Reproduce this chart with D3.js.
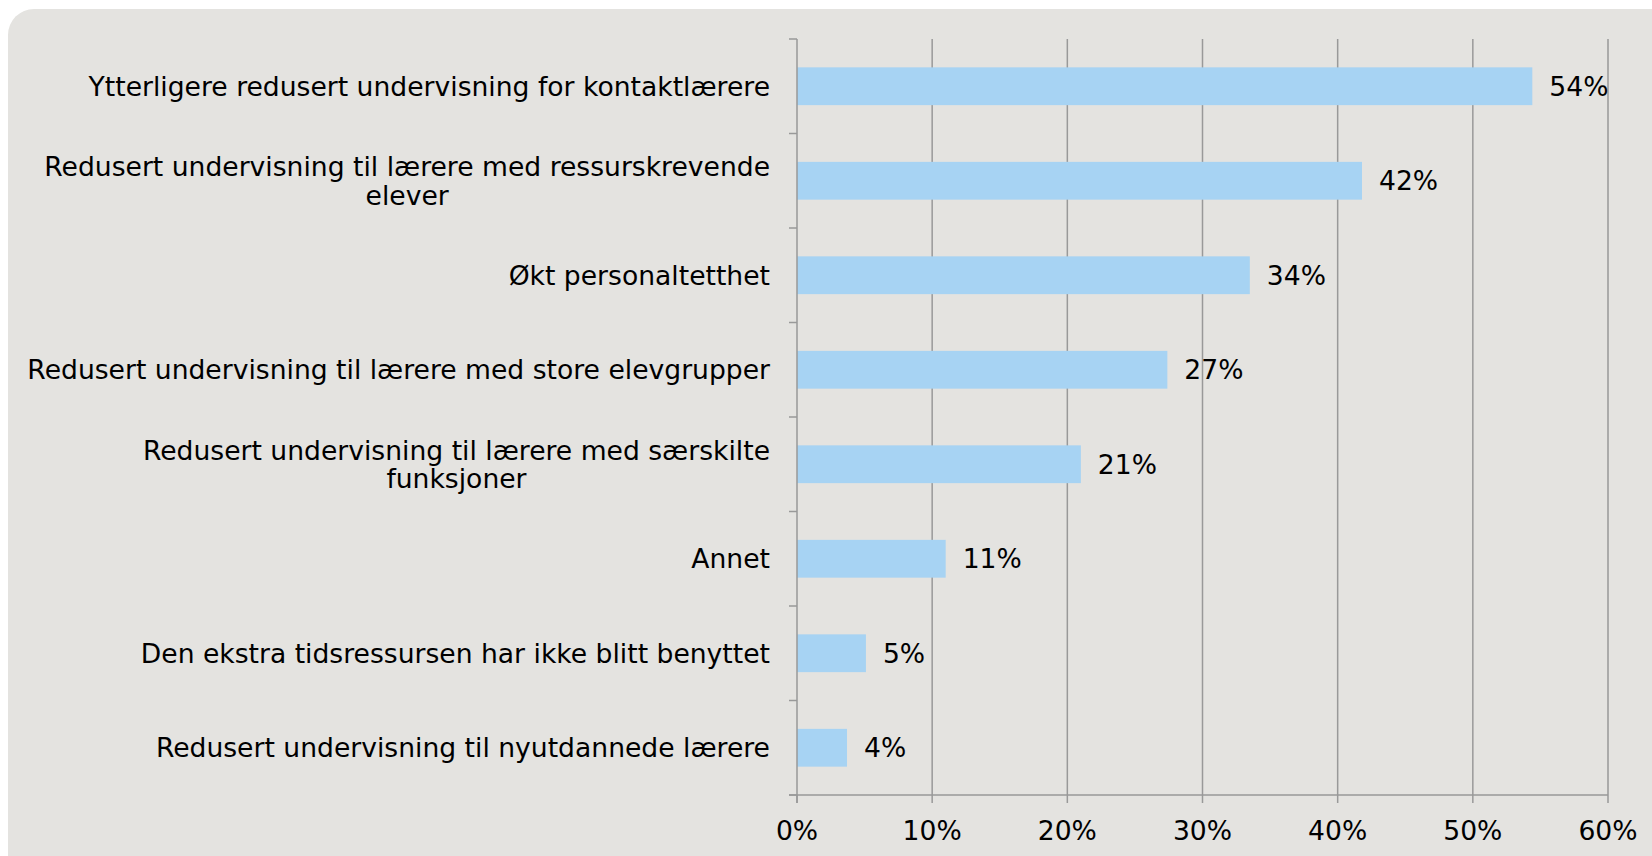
<!DOCTYPE html>
<html>
<head>
<meta charset="utf-8">
<script src="https://cdn.jsdelivr.net/npm/d3@7"></script>
<style>
  body { margin: 0; background: #ffffff; }
  svg text { font-family: "DejaVu Sans", Verdana, sans-serif; fill: #000; }
</style>
</head>
<body>
<div id="chart"></div>
<script>
var categories = [
    "Ytterligere redusert undervisning for kontaktlærere",
    "Redusert undervisning til lærere med ressurskrevende|elever",
    "Økt personaltetthet",
    "Redusert undervisning til lærere med store elevgrupper",
    "Redusert undervisning til lærere med særskilte|funksjoner",
    "Annet",
    "Den ekstra tidsressursen har ikke blitt benyttet",
    "Redusert undervisning til nyutdannede lærere"
];
var values = [54.4, 41.8, 33.5, 27.4, 21.0, 11.0, 5.1, 3.7];
var valueLabels = ["54%", "42%", "34%", "27%", "21%", "11%", "5%", "4%"];
var xTicks = [0, 10, 20, 30, 40, 50, 60];

var W = 1652, H = 856;
var margin = { top: 39, right: 44, bottom: 61, left: 797 },
    width = W - margin.left - margin.right,
    height = H - margin.top - margin.bottom;
var fontSize = "26.6px";

var root = d3.select("#chart").append("svg")
    .attr("width", W)
    .attr("height", H);

// panel background
root.append("rect")
    .attr("x", 8).attr("y", 9)
    .attr("width", W + 40).attr("height", H + 40)
    .attr("rx", 26).attr("ry", 26)
    .attr("fill", "#e4e3e0");

var svg = root.append("g")
    .attr("transform", "translate(" + margin.left + "," + margin.top + ")");

var x = d3.scaleLinear().domain([0, 60]).range([0, width]);
var y = d3.scaleBand().domain(d3.range(categories.length)).range([0, height]).paddingInner(0.6).paddingOuter(0.3);
var yb = d3.scaleLinear().domain([0, categories.length]).range([0, height]);

var lineColor = "#999999";

// gridlines
svg.selectAll(".grid")
    .data(xTicks.slice(1))
    .enter().append("line")
    .attr("x1", function (d) { return x(d); })
    .attr("x2", function (d) { return x(d); })
    .attr("y1", 0).attr("y2", height)
    .attr("stroke", lineColor).attr("stroke-width", 1.5);

// bars
svg.selectAll(".bar")
    .data(values)
    .enter().append("rect")
    .attr("x", x(0))
    .attr("y", function (d, i) { return y(i); })
    .attr("width", function (d) { return x(d) - x(0); })
    .attr("height", y.bandwidth())
    .attr("fill", "#a7d3f3");

// y axis line + category ticks
svg.append("line")
    .attr("x1", 0).attr("x2", 0).attr("y1", 0).attr("y2", height + 8)
    .attr("stroke", lineColor).attr("stroke-width", 1.5);
svg.selectAll(".ytick")
    .data(d3.range(categories.length + 1))
    .enter().append("line")
    .attr("x1", -8).attr("x2", 0)
    .attr("y1", function (d) { return yb(d); })
    .attr("y2", function (d) { return yb(d); })
    .attr("stroke", lineColor).attr("stroke-width", 1.5);

// x axis line + ticks
svg.append("line")
    .attr("x1", -8).attr("x2", width).attr("y1", height).attr("y2", height)
    .attr("stroke", lineColor).attr("stroke-width", 1.5);
svg.selectAll(".xtick")
    .data(xTicks)
    .enter().append("line")
    .attr("x1", function (d) { return x(d); })
    .attr("x2", function (d) { return x(d); })
    .attr("y1", height).attr("y2", height + 8)
    .attr("stroke", lineColor).attr("stroke-width", 1.5);
svg.selectAll(".xlabel")
    .data(xTicks)
    .enter().append("text")
    .attr("x", function (d) { return x(d); })
    .attr("y", height + 45)
    .attr("text-anchor", "middle")
    .style("font-size", fontSize)
    .text(function (d) { return d + "%"; });

// value labels
svg.selectAll(".vlabel")
    .data(values)
    .enter().append("text")
    .attr("x", function (d) { return x(d) + 17; })
    .attr("y", function (d, i) { return y(i) + y.bandwidth() / 2; })
    .attr("dy", "0.36em")
    .style("font-size", fontSize)
    .text(function (d, i) { return valueLabels[i]; });

// category labels (multi-line, centered block, right aligned)
var labelRight = -27;
categories.forEach(function (c, i) {
    var lines = c.split("|");
    var cy = y(i) + y.bandwidth() / 2;
    var lh = 28.5;
    var g = svg.append("g");
    var texts = lines.map(function (l, k) {
        return g.append("text")
            .attr("y", cy + (k - (lines.length - 1) / 2) * lh)
            .attr("dy", "0.36em")
            .attr("text-anchor", "middle")
            .style("font-size", fontSize)
            .text(l);
    });
    var maxW = d3.max(texts, function (t) { return t.node().getComputedTextLength(); });
    texts.forEach(function (t) { t.attr("x", labelRight - maxW / 2); });
});
</script>
</body>
</html>
